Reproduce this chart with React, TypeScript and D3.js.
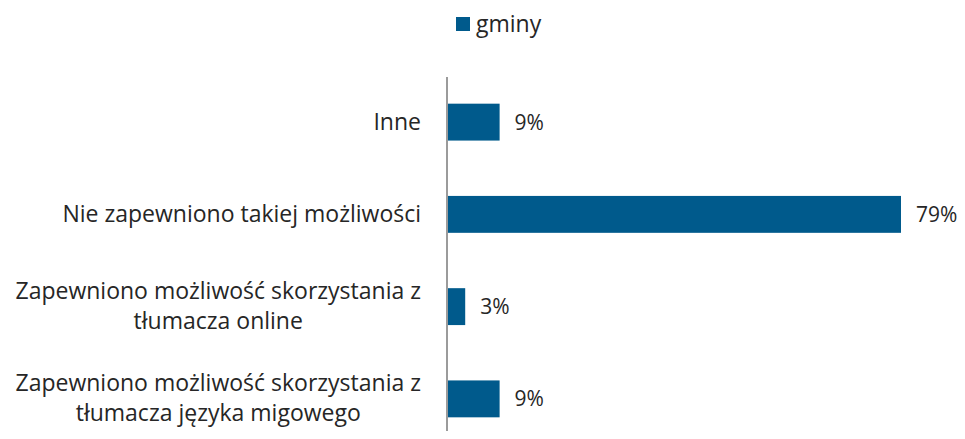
import React from "react";
import * as d3 from "d3";

const categories: string[][] = [
  ["Inne"],
  ["Nie zapewniono takiej możliwości"],
  ["Zapewniono możliwość skorzystania z", "tłumacza online"],
  ["Zapewniono możliwość skorzystania z", "tłumacza języka migowego"],
];
const values: number[] = [9, 79, 3, 9];
const seriesName = "gminy";

const W = 965;
const H = 439;
const FONT = "'Open Sans', sans-serif";
const FS = 23;
const VFS = 21;
const COLOR = "#005a8c";

function measure(text: string): number {
  const c = document.createElement("canvas").getContext("2d");
  if (!c) return text.length * FS * 0.55;
  c.font = `${FS}px 'Open Sans'`;
  return c.measureText(text).width;
}

export default function App() {
  const keys = categories.map((_, i) => String(i));
  const x = d3.scaleLinear().domain([0, 79]).range([448, 901]);
  const y = d3.scaleBand<string>().domain(keys).range([76, 445]).paddingInner(0.6).paddingOuter(0.3);
  const axisX = 447;
  const labelRight = 421;
  const lineH = 30;

  return (
    <div style={{ margin: -8 }}>
      <svg width={W} height={H} style={{ display: "block", fontFamily: FONT }}>
        <rect width={W} height={H} fill="#fff" />
        {/* legend */}
        <rect x={456} y={17} width={14} height={14} fill={COLOR} />
        <text x={476} y={32} fontSize={FS} fill="#262626">{seriesName}</text>
        {/* bars */}
        {values.map((v, i) => {
          const yy = y(keys[i])!;
          return (
            <g key={i}>
              <rect x={x(0)} y={yy} width={x(v) - x(0)} height={y.bandwidth()} fill={COLOR} />
              <text x={x(v) + 15} y={yy + y.bandwidth() / 2 + 7.5} fontSize={VFS} fill="#262626">
                {v}%
              </text>
            </g>
          );
        })}
        {/* category labels */}
        {categories.map((lines, i) => {
          const cy = y(keys[i])! + y.bandwidth() / 2;
          const maxW = d3.max(lines, (l) => measure(l)) || 0;
          const cx = labelRight - maxW / 2;
          const base0 = cy + 7.5 - ((lines.length - 1) * lineH) / 2;
          return (
            <text key={i} fontSize={FS} fill="#262626" textAnchor="middle">
              {lines.map((l, j) => (
                <tspan key={j} x={cx} y={base0 + j * lineH}>{l}</tspan>
              ))}
            </text>
          );
        })}
        {/* axis */}
        <line x1={axisX} x2={axisX} y1={77} y2={H} stroke="#9b9b9b" strokeWidth={2} />
      </svg>
    </div>
  );
}
